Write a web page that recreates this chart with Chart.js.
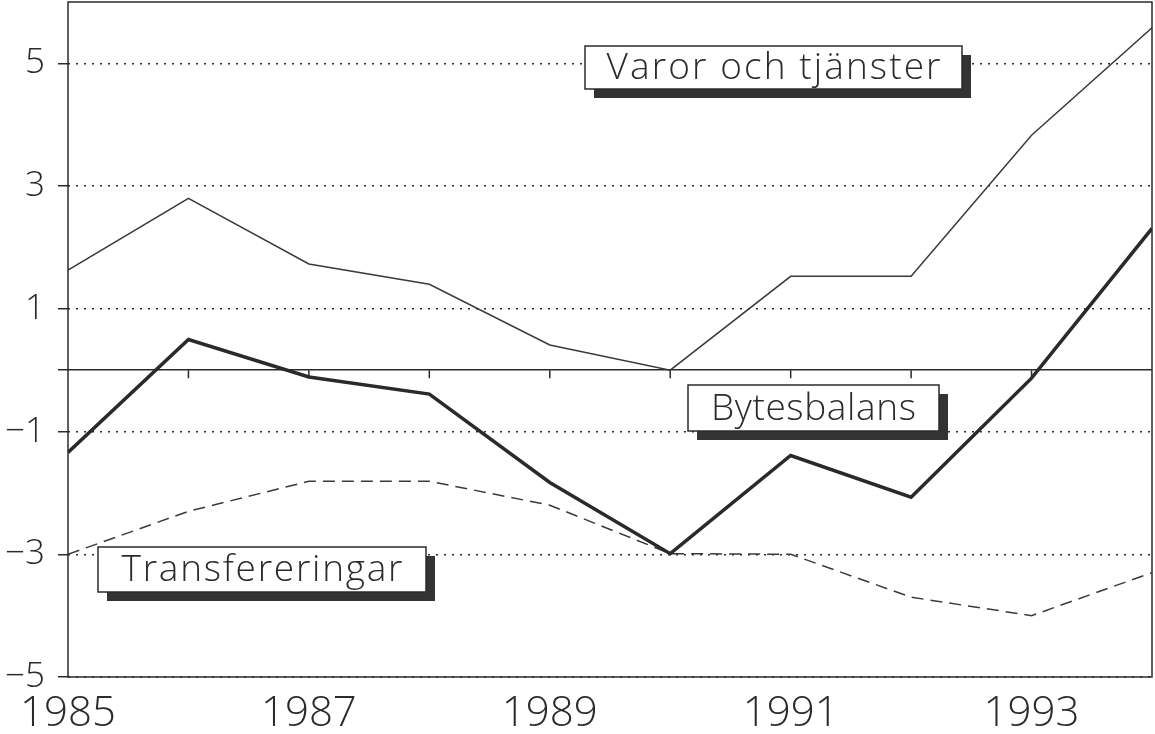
<!DOCTYPE html>
<html>
<head>
<meta charset="utf-8">
<script src="https://cdn.jsdelivr.net/npm/chart.js@4.4.1/dist/chart.umd.min.js"></script>
<style>
  html, body { margin: 0; padding: 0; background: #fff; }
  #wrap { width: 1155px; height: 734px; position: relative; }
</style>
</head>
<body>
<div id="wrap"><canvas id="chart"></canvas></div>
<script>
const years = [1985, 1986, 1987, 1988, 1989, 1990, 1991, 1992, 1993, 1994];
const varor = [1.63, 2.8, 1.73, 1.4, 0.41, 0.0, 1.53, 1.53, 3.83, 5.58];
const bytesbalans = [-1.34, 0.5, -0.11, -0.39, -1.83, -2.99, -1.39, -2.07, -0.13, 2.31];
const transfereringar = [-3.0, -2.3, -1.81, -1.81, -2.2, -2.99, -3.0, -3.7, -4.0, -3.3];
const yTicks = [-5, -3, -1, 0, 1, 3, 5];
const xTicks = [1985, 1987, 1989, 1991, 1993];
const labelNames = ['Varor och tjänster', 'Bytesbalans', 'Transfereringar'];

const FONT = '"Open Sans", "DejaVu Sans", sans-serif';
const INK = '#2b2b2b';

function pts(arr) {
    return arr.map((v, i) => ({x: years[i], y: v}));
}

// label boxes with drop shadow (pixel layout), tw = text width
const boxes = [
    {text: labelNames[0], x: 585, y: 46, w: 377, h: 43, tw: 334},
    {text: labelNames[1], x: 688, y: 385, w: 251, h: 46, tw: 205},
    {text: labelNames[2], x: 98, y: 547, w: 328, h: 45, tw: 281},
];

const frame = {
    id: 'frame',
    afterDatasetsDraw(chart) {
        const ctx = chart.ctx;
        const a = chart.chartArea;
        const xs = chart.scales.x;
        const ys = chart.scales.y;
        ctx.save();
        ctx.strokeStyle = INK;
        ctx.lineWidth = 1.5;
        ctx.strokeRect(a.left, a.top, a.right - a.left, a.bottom - a.top);
        // year ticks along the zero line
        const y0 = ys.getPixelForValue(0);
        ctx.beginPath();
        years.forEach(yr => {
            if (yr === years[0] || yr === years[years.length - 1]) return;
            const px = xs.getPixelForValue(yr);
            ctx.moveTo(px, y0);
            ctx.lineTo(px, y0 + 8);
        });
        ctx.stroke();

        boxes.forEach(b => {
            ctx.fillStyle = '#333';
            ctx.fillRect(b.x + 9, b.y + 9, b.w, b.h);
            ctx.fillStyle = '#fff';
            ctx.fillRect(b.x, b.y, b.w, b.h);
            ctx.strokeStyle = INK;
            ctx.lineWidth = 1.5;
            ctx.strokeRect(b.x, b.y, b.w, b.h);
            ctx.fillStyle = INK;
            ctx.font = '300 37px ' + FONT;
            ctx.letterSpacing = '0px';
            const w0 = ctx.measureText(b.text).width;
            const sp = Math.max(0, (b.tw - w0) / (b.text.length - 1));
            ctx.letterSpacing = sp + 'px';
            ctx.textAlign = 'left';
            ctx.textBaseline = 'middle';
            ctx.fillText(b.text, b.x + (b.w - b.tw) / 2, b.y + b.h / 2 + 1);
        });
        ctx.restore();
    }
};

new Chart(document.getElementById('chart'), {
    type: 'line',
    data: {
        datasets: [
            {
                label: labelNames[0],
                data: pts(varor),
                borderColor: '#3a3a3a',
                borderWidth: 1.5,
                pointRadius: 0,
                tension: 0,
            },
            {
                label: labelNames[1],
                data: pts(bytesbalans),
                borderColor: '#2a2a2a',
                borderWidth: 3.5,
                pointRadius: 0,
                tension: 0,
            },
            {
                label: labelNames[2],
                data: pts(transfereringar),
                borderColor: '#3a3a3a',
                borderWidth: 1.5,
                borderDash: [12, 7],
                pointRadius: 0,
                tension: 0,
            },
        ],
    },
    options: {
        responsive: true,
        maintainAspectRatio: false,
        animation: false,
        layout: {padding: {top: 2, right: 3, left: 0, bottom: 0}},
        plugins: {legend: {display: false}, tooltip: {enabled: false}},
        scales: {
            x: {
                type: 'linear',
                min: 1985,
                max: 1994,
                afterBuildTicks: s => { s.ticks = xTicks.map(v => ({value: v})); },
                afterFit: s => { s.height = 57; s.paddingRight = 0; },
                grid: {display: false, drawTicks: false},
                border: {display: false},
                ticks: {
                    padding: 12,
                    color: INK,
                    font: {family: FONT, size: 42, weight: 300},
                    callback: v => String(v),
                    maxRotation: 0,
                    autoSkip: false,
                },
            },
            y: {
                min: -5,
                max: 6,
                afterBuildTicks: s => { s.ticks = yTicks.map(v => ({value: v})); },
                afterFit: s => { s.width = 68; s.paddingTop = 0; s.paddingBottom = 0; },
                grid: {
                    color: INK,
                    lineWidth: 1.5,
                    tickLength: 10,
                    tickBorderDash: [],
                },
                border: {
                    display: false,
                    dash: c => (c.tick && c.tick.value === 0 ? [] : [2, 6]),
                },
                ticks: {
                    padding: 13,
                    color: INK,
                    font: {family: FONT, size: 35, weight: 300},
                    callback: v => (v === 0 ? '' : (v < 0 ? '\u2212' + Math.abs(v) : String(v))),
                    autoSkip: false,
                },
            },
        },
    },
    plugins: [frame],
});
</script>
</body>
</html>
